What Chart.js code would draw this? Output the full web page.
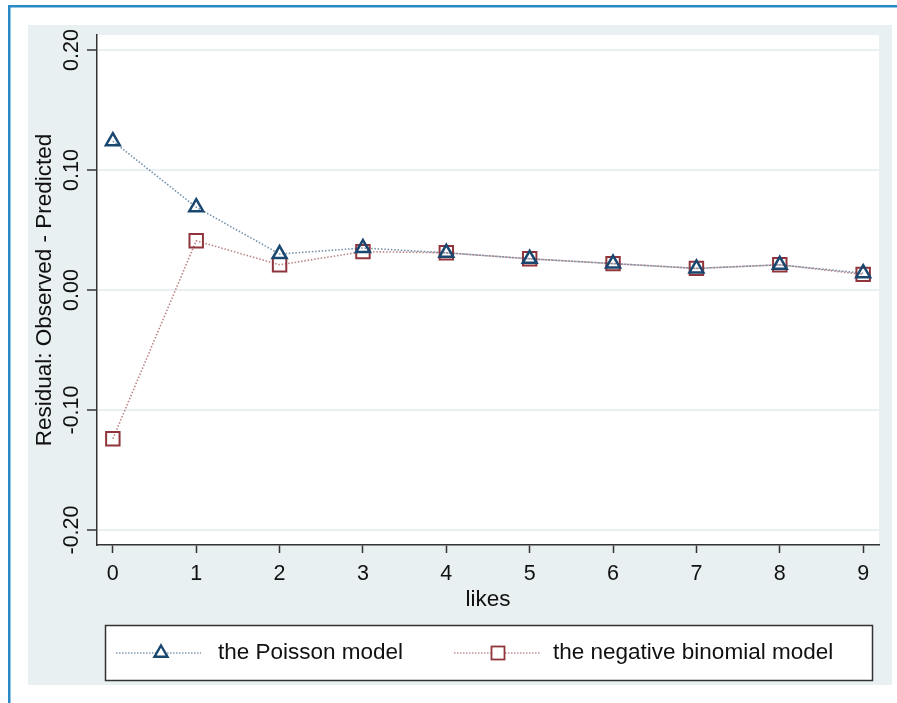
<!DOCTYPE html>
<html>
<head>
<meta charset="utf-8">
<script src="https://cdn.jsdelivr.net/npm/chart.js@4.4.1/dist/chart.umd.min.js"></script>
<style>
  html, body { margin: 0; padding: 0; background: #fff; }
  #wrap { width: 897px; height: 703px; }
</style>
</head>
<body>
<div id="wrap"><canvas id="residChart" width="897" height="703"></canvas></div>
<script>
// values
const likes = [0, 1, 2, 3, 4, 5, 6, 7, 8, 9];
const poissonResid = [0.124, 0.069, 0.030, 0.035, 0.031, 0.026, 0.022, 0.018, 0.021, 0.014];
const negbinResid = [-0.124, 0.041, 0.021, 0.032, 0.031, 0.026, 0.022, 0.018, 0.021, 0.013];
const xTicks = [0, 1, 2, 3, 4, 5, 6, 7, 8, 9];
const yTicks = [-0.2, -0.1, 0, 0.1, 0.2];
const yTickLabels = ['-0.20', '-0.10', '0.00', '0.10', '0.20'];
const seriesNames = ['the Poisson model', 'the negative binomial model'];

const navy = '#1a476f';
const maroon = '#90353b';
const panelBg = '#e9f0f2';
const textColor = '#111111';
const fontFam = '"Liberation Sans", Arial, Helvetica, sans-serif';

// background, frame, rotated y labels, titles and legend box
const stataLook = {
  id: 'stataLook',
  beforeDraw(chart) {
    const ctx = chart.ctx;
    const a = chart.chartArea;
    ctx.save();
    ctx.fillStyle = '#ffffff';
    ctx.fillRect(0, 0, chart.width, chart.height);
    // blue frame of the figure
    ctx.fillStyle = '#2a8ac6';
    ctx.fillRect(8, 5, chart.width - 8, 2.5);
    ctx.fillRect(8, 5, 2.5, chart.height - 5);
    // graph region
    ctx.fillStyle = panelBg;
    ctx.fillRect(28, 25, 864, 660);
    // plot region
    ctx.fillStyle = '#ffffff';
    ctx.fillRect(a.left, a.top, a.right - a.left, a.bottom - a.top);
    ctx.restore();
  },
  afterDraw(chart) {
    const ctx = chart.ctx;
    const a = chart.chartArea;
    const ys = chart.scales.y;
    ctx.save();
    ctx.fillStyle = textColor;

    // y tick labels, turned like the original
    ctx.font = '21.5px ' + fontFam;
    ctx.textAlign = 'center';
    ctx.textBaseline = 'middle';
    yTicks.forEach((v, i) => {
      const py = ys.getPixelForValue(v);
      ctx.save();
      ctx.translate(72, py);
      ctx.rotate(-Math.PI / 2);
      ctx.fillText(yTickLabels[i], 0, 0);
      ctx.restore();
    });

    // axis titles
    ctx.font = '22.5px ' + fontFam;
    ctx.save();
    ctx.translate(45, (a.top + a.bottom) / 2);
    ctx.rotate(-Math.PI / 2);
    ctx.fillText('Residual: Observed - Predicted', 0, 0);
    ctx.restore();
    ctx.fillText('likes', (a.left + a.right) / 2, 600);

    // legend
    ctx.fillStyle = '#ffffff';
    ctx.fillRect(105, 625, 767, 55);
    ctx.strokeStyle = '#333333';
    ctx.lineWidth = 1.5;
    ctx.strokeRect(105.5, 625.5, 767, 55);

    const ly = 653;
    ctx.lineWidth = 1.5;
    ctx.setLineDash([1.5, 1.5]);
    ctx.strokeStyle = 'rgba(26,71,111,0.55)';
    ctx.beginPath(); ctx.moveTo(116, ly); ctx.lineTo(201, ly); ctx.stroke();
    ctx.strokeStyle = 'rgba(144,53,59,0.55)';
    ctx.beginPath(); ctx.moveTo(454, ly); ctx.lineTo(541, ly); ctx.stroke();
    ctx.setLineDash([]);

    // triangle marker
    ctx.fillStyle = '#ffffff';
    ctx.strokeStyle = navy;
    ctx.lineWidth = 2.4;
    const r = 7.5;
    ctx.beginPath();
    ctx.moveTo(161, ly - r);
    ctx.lineTo(161 + r * Math.sin(2 * Math.PI / 3), ly - r * Math.cos(2 * Math.PI / 3));
    ctx.lineTo(161 - r * Math.sin(2 * Math.PI / 3), ly - r * Math.cos(2 * Math.PI / 3));
    ctx.closePath();
    ctx.fill(); ctx.stroke();
    // square marker
    ctx.strokeStyle = maroon;
    ctx.lineWidth = 1.8;
    ctx.fillRect(491.5, ly - 6.5, 13, 13);
    ctx.strokeRect(491.5, ly - 6.5, 13, 13);

    ctx.fillStyle = textColor;
    ctx.font = '22.5px ' + fontFam;
    ctx.textAlign = 'left';
    ctx.fillText(seriesNames[0], 218, ly);
    ctx.fillText(seriesNames[1], 553, ly);
    ctx.restore();
  }
};

const ctx = document.getElementById('residChart').getContext('2d');
const residChart = new Chart(ctx, {
  type: 'line',
  data: {
    datasets: [{
      label: seriesNames[0],
      data: likes.map((x, i) => ({ x: x, y: poissonResid[i] })),
      borderColor: 'rgba(26,71,111,0.6)',
      borderWidth: 1.6,
      borderDash: [1.5, 1.8],
      pointStyle: 'triangle',
      pointRadius: 8,
      pointBorderWidth: 2.5,
      pointBorderColor: navy,
      pointBackgroundColor: 'rgba(255,255,255,0)',
      tension: 0,
      fill: false
    }, {
      label: seriesNames[1],
      data: likes.map((x, i) => ({ x: x, y: negbinResid[i] })),
      borderColor: 'rgba(144,53,59,0.6)',
      borderWidth: 1.6,
      borderDash: [1.5, 1.8],
      pointStyle: 'rect',
      pointRadius: 9.5,
      pointBorderWidth: 2,
      pointBorderColor: maroon,
      pointBackgroundColor: 'rgba(255,255,255,0)',
      tension: 0,
      fill: false
    }]
  },
  options: {
    responsive: false,
    animation: false,
    layout: { padding: { left: 0, right: 18, top: 35, bottom: 0 } },
    plugins: {
      legend: { display: false },
      tooltip: { enabled: false }
    },
    scales: {
      x: {
        type: 'linear',
        min: -0.19,
        max: 9.19,
        afterBuildTicks: (s) => { s.ticks = xTicks.map(v => ({ value: v })); },
        afterFit: (s) => { s.height = 158; },
        grid: { display: true, drawOnChartArea: false, drawTicks: true, tickLength: 8, tickColor: '#333', tickWidth: 1.5 },
        border: { display: true, color: '#333', width: 1.5 },
        ticks: {
          color: textColor,
          font: { family: fontFam, size: 21.5 },
          padding: 8,
          maxRotation: 0,
          callback: (v) => String(v)
        }
      },
      y: {
        type: 'linear',
        min: -0.2125,
        max: 0.2125,
        afterBuildTicks: (s) => { s.ticks = yTicks.map(v => ({ value: v })); },
        afterFit: (s) => { s.width = 97; },
        grid: { color: '#eaf0f2', lineWidth: 2, drawTicks: true, tickLength: 10, tickColor: '#333', tickWidth: 1.5 },
        border: { display: true, color: '#333', width: 1.5 },
        ticks: { display: false }
      }
    }
  },
  plugins: [stataLook]
});
</script>
</body>
</html>
